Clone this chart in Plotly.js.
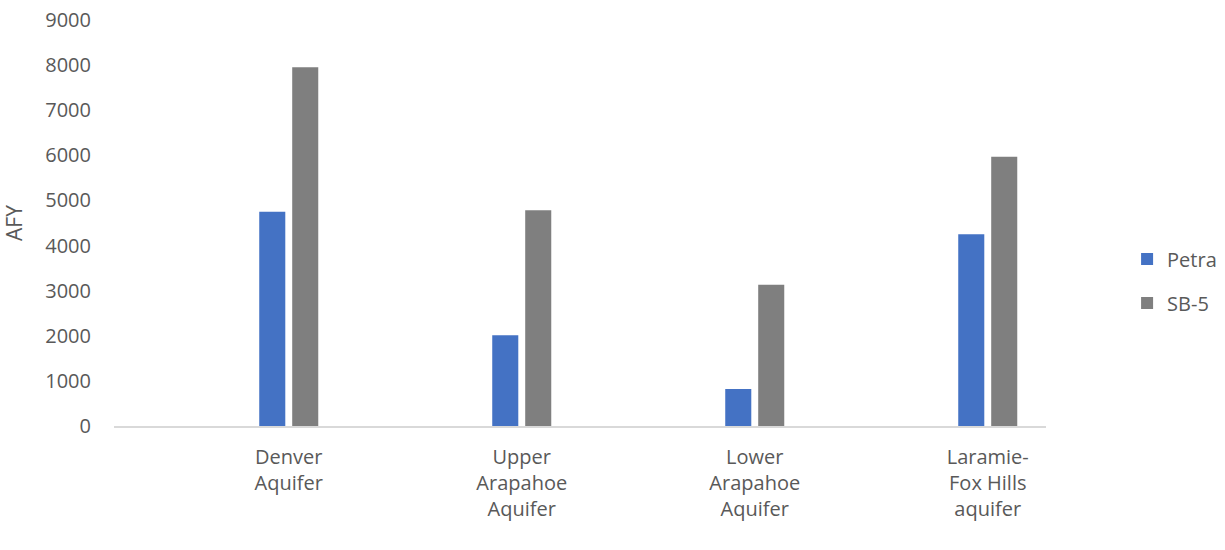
<!DOCTYPE html>
<html>
<head>
<meta charset="utf-8">
<script src="https://cdn.plot.ly/plotly-3.0.1.min.js"></script>
<style>html,body{margin:0;padding:0;background:#fff;}#chart{width:1225px;height:550px;}</style>
</head>
<body>
<div id="chart"></div>
<script>
const categories = ["Denver<br>Aquifer", "Upper<br>Arapahoe<br>Aquifer", "Lower<br>Arapahoe<br>Aquifer", "Laramie-<br>Fox Hills<br>aquifer"];
const petra = [4750, 2010, 820, 4250];
const sb5 = [7950, 4780, 3130, 5970];
const yTicks = [0, 1000, 2000, 3000, 4000, 5000, 6000, 7000, 8000, 9000];

const textColor = "#595959";
const fontFam = "'Open Sans', 'Segoe UI', sans-serif";

const traces = [
  {type: "bar", name: "Petra", x: categories, y: petra, marker: {color: "#4472C4"}, legendgroup: "a"},
  {type: "bar", name: "SB-5", x: categories, y: sb5, marker: {color: "#7F7F7F"}, legendgroup: "b"}
];

const layout = {
  width: 1225, height: 550,
  margin: {l: 114, r: 179, t: 20, b: 124, autoexpand: false},
  paper_bgcolor: "#fff", plot_bgcolor: "#fff",
  font: {family: fontFam, size: 20, color: textColor},
  barmode: "group",
  bargap: 0.717,
  bargroupgap: 0.21,
  showlegend: true,
  legend: {x: 1.087, xanchor: "left", y: 0.357, yanchor: "middle", traceorder: "grouped", tracegroupgap: 15, font: {size: 20, color: textColor}},
  xaxis: {
    type: "category",
    range: [-0.75, 3.25],
    showgrid: false, zeroline: false,
    showline: true, linecolor: "#D9D9D9", linewidth: 2,
    ticks: "", ticklabelstandoff: 12,
    tickfont: {size: 20, color: textColor},
    fixedrange: true
  },
  yaxis: {
    range: [0, 9000],
    tickvals: yTicks,
    ticktext: yTicks.map(String),
    showgrid: false, zeroline: false, showline: false,
    ticks: "", ticklabelstandoff: 22,
    tickfont: {size: 20, color: textColor},
    title: {text: "AFY", font: {size: 21, color: textColor}, standoff: 18},
    fixedrange: true
  }
};

Plotly.newPlot("chart", traces, layout, {displayModeBar: false, staticPlot: true});
</script>
</body>
</html>
